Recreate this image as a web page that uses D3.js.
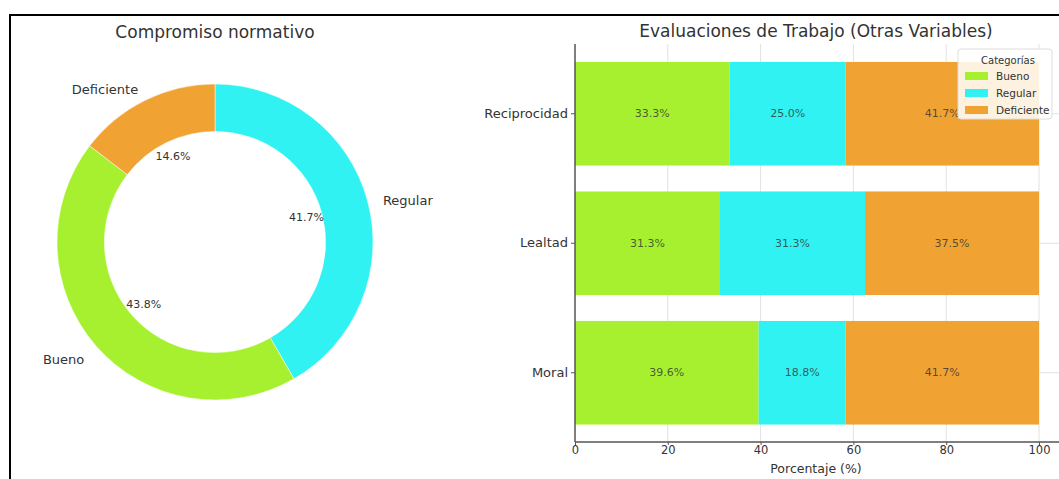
<!DOCTYPE html>
<html>
<head>
<meta charset="utf-8">
<script src="https://cdn.jsdelivr.net/npm/d3@7"></script>
<style>
  html, body { margin: 0; padding: 0; background: #fff; }
  svg { display: block; font-family: "DejaVu Sans", sans-serif; }
</style>
</head>
<body>
<svg id="chart" width="1059" height="479"></svg>
<script>
// ---- Data ----
const pieCategories = ["Regular", "Bueno", "Deficiente"];
const pieValues = [41.67, 43.75, 14.58];

const barCategories = ["Reciprocidad", "Lealtad", "Moral"];
const seriesNames = ["Bueno", "Regular", "Deficiente"];
const buenoValues = [33.33, 31.25, 39.58];
const regularValues = [25.0, 31.25, 18.75];
const deficienteValues = [41.67, 37.5, 41.67];
const xTicks = [0, 20, 40, 60, 80, 100];

const colors = { Bueno: "#a6f02f", Regular: "#30f2f2", Deficiente: "#f0a232" };

(function () {
const svg = d3.select("#chart");

// Frame
svg.append("rect").attr("x", 10).attr("y", 15).attr("width", 1100).attr("height", 500)
  .attr("fill", "none").attr("stroke", "#000").attr("stroke-width", 2);

// ---- Donut ----
const cx = 215, cy = 242, R = 158, r = R * 0.7;
const pieG = svg.append("g").attr("transform", `translate(${cx},${cy})`);
const pieData = d3.pie().sort(null).value(d => d.v)(pieCategories.map((c, i) => ({ c, v: pieValues[i] })));
const arc = d3.arc().innerRadius(r).outerRadius(R);
pieG.selectAll("path").data(pieData).join("path")
  .attr("d", arc).attr("fill", d => colors[d.data.c]).attr("stroke", "#fff").attr("stroke-width", 0.5);

const total = d3.sum(pieValues);
pieData.forEach(d => {
  const a = (d.startAngle + d.endAngle) / 2;
  const sx = Math.sin(a), sy = -Math.cos(a);
  pieG.append("text")
    .attr("x", R * 1.1 * sx).attr("y", R * 1.1 * sy + 3)
    .attr("text-anchor", sx >= 0 ? "start" : "end")
    .attr("dominant-baseline", "central")
    .attr("font-size", 13).attr("fill", "#333")
    .text(d.data.c);
  pieG.append("text")
    .attr("x", R * 0.6 * sx).attr("y", R * 0.6 * sy)
    .attr("text-anchor", "middle")
    .attr("dominant-baseline", "central")
    .attr("font-size", 11).attr("fill", "#333")
    .text((d.data.v / total * 100).toFixed(1) + "%");
});

svg.append("text").attr("x", cx).attr("y", 32).attr("text-anchor", "middle")
  .attr("dominant-baseline", "central").attr("font-size", 17).attr("fill", "#333")
  .text("Compromiso normativo");

// ---- Stacked bars ----
const pL = 575, pT = 44, pB = 442, pR = 1062;
const x = d3.scaleLinear().domain([0, 100]).range([pL, 1039]);
const y = d3.scaleBand().domain(barCategories).range([49, 437.5]).paddingInner(0.2).paddingOuter(0.1);

const g = svg.append("g");
g.selectAll(".vg").data(xTicks.slice(1)).join("line")
  .attr("x1", d => x(d)).attr("x2", d => x(d)).attr("y1", pT).attr("y2", pB)
  .attr("stroke", "#e2e2e2").attr("stroke-width", 1);
g.selectAll(".hg").data(barCategories).join("line")
  .attr("x1", pL).attr("x2", pR).attr("y1", d => y(d) + y.bandwidth() / 2).attr("y2", d => y(d) + y.bandwidth() / 2)
  .attr("stroke", "#e2e2e2").attr("stroke-width", 1);

const rows = barCategories.map((c, i) => ({ cat: c, Bueno: buenoValues[i], Regular: regularValues[i], Deficiente: deficienteValues[i] }));
const stack = d3.stack().keys(seriesNames)(rows);
stack.forEach(layer => {
  g.selectAll(null).data(layer).join("rect")
    .attr("x", d => x(d[0])).attr("width", d => x(d[1]) - x(d[0]))
    .attr("y", d => y(d.data.cat)).attr("height", y.bandwidth())
    .attr("fill", colors[layer.key]);
  g.selectAll(null).data(layer).join("text")
    .attr("x", d => (x(d[0]) + x(d[1])) / 2).attr("y", d => y(d.data.cat) + y.bandwidth() / 2)
    .attr("text-anchor", "middle").attr("dominant-baseline", "central")
    .attr("font-size", 11).attr("fill", "#333").attr("fill-opacity", 0.8)
    .text(d => (d[1] - d[0]).toFixed(1) + "%");
});

const xAxis = g.append("g").attr("transform", `translate(0,${pB})`)
  .call(d3.axisBottom(x).tickValues(xTicks).tickSize(3).tickPadding(1));
xAxis.select(".domain").remove();
xAxis.selectAll("line").attr("stroke", "#555");
xAxis.selectAll("text").attr("font-size", 11.5).attr("fill", "#333").attr("font-family", "DejaVu Sans");
g.append("line").attr("x1", pL).attr("x2", pR).attr("y1", pB).attr("y2", pB)
  .attr("stroke", "#555").attr("stroke-width", 1.5);

const yAxis = g.append("g").attr("transform", `translate(${pL},0)`)
  .call(d3.axisLeft(y).tickSize(4).tickPadding(3));
yAxis.select(".domain").remove();
yAxis.selectAll("line").attr("stroke", "#555");
yAxis.selectAll("text").attr("font-size", 13).attr("fill", "#333").attr("font-family", "DejaVu Sans");
g.append("line").attr("x1", pL).attr("x2", pL).attr("y1", pT).attr("y2", pB)
  .attr("stroke", "#555").attr("stroke-width", 1.5);

svg.append("text").attr("x", 816).attr("y", 468).attr("text-anchor", "middle")
  .attr("dominant-baseline", "central").attr("font-size", 12.5).attr("fill", "#333")
  .text("Porcentaje (%)");
svg.append("text").attr("x", 816).attr("y", 31).attr("text-anchor", "middle")
  .attr("dominant-baseline", "central").attr("font-size", 17).attr("fill", "#333")
  .text("Evaluaciones de Trabajo (Otras Variables)");

const lg = svg.append("g").attr("transform", "translate(958,49)");
lg.append("rect").attr("width", 94).attr("height", 70).attr("rx", 3)
  .attr("fill", "#fff").attr("fill-opacity", 0.85).attr("stroke", "#ddd");
lg.append("text").attr("x", 50).attr("y", 11).attr("text-anchor", "middle")
  .attr("dominant-baseline", "central").attr("font-size", 10).attr("fill", "#333").text("Categorías");
seriesNames.forEach((s, i) => {
  lg.append("rect").attr("x", 7).attr("y", 23 + i * 17).attr("width", 23).attr("height", 8).attr("fill", colors[s]);
  lg.append("text").attr("x", 38).attr("y", 27 + i * 17).attr("dominant-baseline", "central")
    .attr("font-size", 10.5).attr("fill", "#333").text(s);
});
})();
</script>
</body>
</html>
